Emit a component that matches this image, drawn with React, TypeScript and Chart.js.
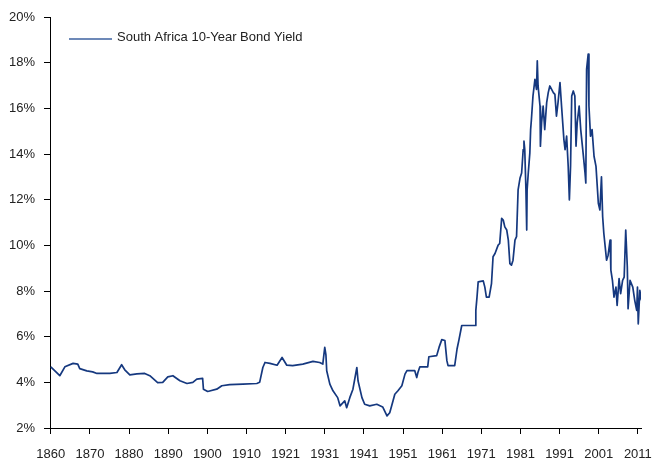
import React, { useEffect, useRef } from "react";
import { Chart, registerables } from "chart.js";

Chart.register(...registerables);

// Category-axis tick labels (evenly spaced, as in the source chart)
const tickYears = [1860, 1870, 1880, 1890, 1900, 1910, 1921, 1931, 1941, 1951, 1961, 1971, 1981, 1991, 2001, 2011];

const yTicks = [2, 4, 6, 8, 10, 12, 14, 16, 18, 20];

const seriesLabel = "South Africa 10-Year Bond Yield";

// [year, yield %]
const era1860to1910: [number, number][] = [
  [1860.0, 4.68], [1862.3, 4.29], [1863.6, 4.68], [1865.7, 4.83], [1866.9, 4.8], [1867.4, 4.6],
  [1869.2, 4.5], [1870.7, 4.46], [1871.8, 4.39], [1875.1, 4.39], [1876.9, 4.43], [1878.1, 4.77],
  [1878.9, 4.55], [1880.2, 4.33], [1882.0, 4.37], [1884.0, 4.39], [1885.3, 4.29], [1887.3, 3.99],
  [1888.6, 4.0], [1889.9, 4.24], [1891.2, 4.29], [1893.0, 4.07], [1894.8, 3.95], [1896.3, 4.0],
  [1897.3, 4.14], [1898.8, 4.17], [1899.0, 3.7], [1900.1, 3.6], [1902.4, 3.7], [1903.7, 3.85],
  [1905.7, 3.9], [1909.1, 3.92],
];

const era1910to1921: [number, number][] = [
  [1912.9, 3.95], [1913.7, 4.0], [1914.6, 4.65], [1915.2, 4.87], [1916.6, 4.83], [1918.6, 4.75],
  [1920.0, 5.09], [1921.3, 4.75],
];

const era1921to1970: [number, number][] = [
  [1922.8, 4.73], [1925.4, 4.8], [1928.0, 4.92], [1929.7, 4.87], [1930.5, 4.8], [1931.0, 5.53],
  [1931.3, 5.2], [1931.5, 4.51], [1932.3, 3.92], [1933.1, 3.63], [1934.3, 3.33], [1934.9, 2.97],
  [1936.1, 3.19], [1936.6, 2.89], [1937.4, 3.33], [1938.2, 3.7], [1939.2, 4.65], [1939.5, 4.07],
  [1940.5, 3.33], [1941.2, 3.04], [1942.5, 2.97], [1944.3, 3.04], [1945.8, 2.92], [1946.9, 2.53],
  [1947.6, 2.67], [1948.1, 2.97], [1948.9, 3.48], [1949.7, 3.63], [1950.7, 3.85], [1951.5, 4.36],
  [1952.0, 4.51], [1954.0, 4.51], [1954.5, 4.21], [1954.8, 4.43], [1955.3, 4.68], [1957.3, 4.68],
  [1957.6, 5.12], [1959.6, 5.17], [1960.2, 5.53], [1960.9, 5.87], [1961.7, 5.83], [1962.2, 4.95],
  [1962.5, 4.73], [1964.2, 4.73], [1964.8, 5.46], [1965.3, 5.87], [1966.0, 6.49], [1969.4, 6.49],
  [1969.6, 7.15],
];

const era1970to2011: [number, number][] = [
  [1969.9, 7.73], [1970.2, 8.4], [1971.5, 8.44], [1971.9, 8.17], [1972.3, 7.73], [1973.0, 7.73],
  [1973.6, 8.32], [1974.0, 9.5], [1974.5, 9.64], [1975.3, 10.01], [1975.7, 10.08], [1976.2, 11.18],
  [1976.6, 11.11], [1977.0, 10.81], [1977.5, 10.67], [1977.9, 10.23], [1978.3, 9.2], [1978.7, 9.13],
  [1979.1, 9.35], [1979.6, 10.23], [1980.0, 10.38], [1980.4, 12.43], [1980.9, 12.95], [1981.3, 13.17],
  [1981.7, 14.19], [1981.9, 14.56], [1982.1, 14.19], [1982.4, 12.43], [1982.6, 10.67], [1982.7, 12.43],
  [1983.0, 13.17], [1983.4, 14.05], [1983.6, 15.07], [1983.8, 15.51], [1984.2, 16.54], [1984.7, 17.27],
  [1985.1, 16.83], [1985.3, 18.08], [1985.5, 16.98], [1986.0, 16.1], [1986.1, 14.34], [1986.4, 15.37],
  [1986.8, 16.1], [1987.2, 15.07], [1987.7, 16.25], [1988.1, 16.69], [1988.5, 16.98], [1989.4, 16.69],
  [1989.8, 16.61], [1990.2, 15.66], [1990.6, 16.25], [1991.1, 17.13], [1991.5, 16.1], [1992.1, 14.63],
  [1992.4, 14.19], [1992.8, 14.78], [1993.2, 13.46], [1993.5, 11.99], [1993.8, 13.46], [1994.1, 16.54],
  [1994.5, 16.76], [1994.9, 16.54], [1995.2, 14.34], [1995.5, 15.37], [1996.0, 16.1], [1996.4, 15.07],
  [1997.0, 14.05], [1997.5, 13.17], [1997.7, 12.73], [1997.9, 17.71], [1998.3, 18.37], [1998.5, 16.1],
  [1998.9, 14.78], [1999.3, 15.07], [1999.8, 13.9], [2000.3, 13.46], [2000.9, 11.84], [2001.3, 11.55],
  [2001.7, 13.0], [2002.0, 11.26], [2002.3, 10.53], [2003.0, 9.35], [2003.4, 9.57], [2003.9, 10.23],
  [2004.1, 8.91], [2004.5, 8.47], [2004.9, 7.73], [2005.4, 8.17], [2005.7, 7.37], [2006.2, 8.54],
  [2006.6, 7.88], [2007.1, 8.47], [2007.5, 8.61], [2007.9, 10.67], [2008.3, 9.06], [2008.5, 7.22],
  [2009.0, 8.47], [2009.7, 8.17], [2010.2, 7.59], [2010.7, 7.15], [2010.9, 8.17], [2011.1, 6.56],
  [2011.5, 8.03], [2011.9, 7.59],
];

// Map a calendar year onto the evenly spaced category axis (10 units per tick interval)
function axisPos(year: number): number {
  const n = tickYears.length;
  let i = 0;
  if (year >= tickYears[n - 1]) i = n - 2;
  else {
    while (i < n - 2 && year >= tickYears[i + 1]) i++;
  }
  const a = tickYears[i];
  const b = tickYears[i + 1];
  return i * 10 + (10 * (year - a)) / (b - a);
}

const FONT = "'Liberation Sans', Arial, sans-serif";
const LINE_COLOR = "#15387f";

const insideLegend = {
  id: "insideLegend",
  afterDraw(chart: any) {
    const ctx = chart.ctx;
    const label = chart.data.datasets[0].label;
    ctx.save();
    ctx.strokeStyle = "#3d62a0";
    ctx.lineWidth = 1.5;
    ctx.beginPath();
    ctx.moveTo(69, 39);
    ctx.lineTo(112, 39);
    ctx.stroke();
    ctx.fillStyle = "#222";
    ctx.font = `13px ${FONT}`;
    ctx.textBaseline = "middle";
    ctx.textAlign = "left";
    ctx.fillText(label, 117, 37.5);
    ctx.restore();
  },
};

export default function App() {
  const ref = useRef<HTMLCanvasElement>(null);

  useEffect(() => {
    if (!ref.current) return;
    const points = [...era1860to1910, ...era1910to1921, ...era1921to1970, ...era1970to2011].map(
      ([yr, v]) => ({ x: axisPos(yr), y: v })
    );
    const chart = new Chart(ref.current, {
      type: "line",
      data: {
        datasets: [
          {
            label: seriesLabel,
            data: points,
            borderColor: LINE_COLOR,
            borderWidth: 1.7,
            pointRadius: 0,
            tension: 0,
            borderJoinStyle: "round",
          },
        ],
      },
      options: {
        responsive: false,
        animation: false,
        events: [],
        layout: { padding: { top: 17, right: 13, left: 0, bottom: 0 } },
        plugins: {
          legend: { display: false },
          tooltip: { enabled: false },
          title: { display: false },
        },
        scales: {
          x: {
            type: "linear",
            min: -0.2,
            max: 150.8,
            afterBuildTicks: (scale: any) => {
              scale.ticks = tickYears.map((_, i) => ({ value: i * 10 }));
            },
            afterFit: (scale: any) => {
              scale.height = 37;
              scale.paddingLeft = 0;
              scale.paddingRight = 0;
            },
            ticks: {
              autoSkip: false,
              maxRotation: 0,
              padding: 13,
              color: "#222",
              font: { family: FONT, size: 13 },
              callback: (v: any) => String(tickYears[Math.round(Number(v) / 10)] ?? ""),
            },
            grid: {
              display: true,
              drawOnChartArea: false,
              drawTicks: true,
              tickLength: 6,
              color: "#000",
            },
            border: { display: true, color: "#000", width: 1 },
          },
          y: {
            type: "linear",
            min: 2,
            max: 20,
            afterBuildTicks: (scale: any) => {
              scale.ticks = yTicks.map((v) => ({ value: v }));
            },
            afterFit: (scale: any) => {
              scale.width = 50;
              scale.paddingTop = 0;
              scale.paddingBottom = 0;
            },
            ticks: {
              padding: 9,
              color: "#222",
              font: { family: FONT, size: 13 },
              callback: (v: any) => `${v}%`,
            },
            grid: {
              display: true,
              drawOnChartArea: false,
              drawTicks: true,
              tickLength: 6,
              color: "#000",
            },
            border: { display: true, color: "#000", width: 1 },
          },
        },
      },
      plugins: [insideLegend],
    });
    return () => chart.destroy();
  }, []);

  return (
    <div style={{ position: "absolute", left: 0, top: 0, width: 654, height: 465, background: "#fff" }}>
      <canvas ref={ref} width={654} height={465} />
    </div>
  );
}
